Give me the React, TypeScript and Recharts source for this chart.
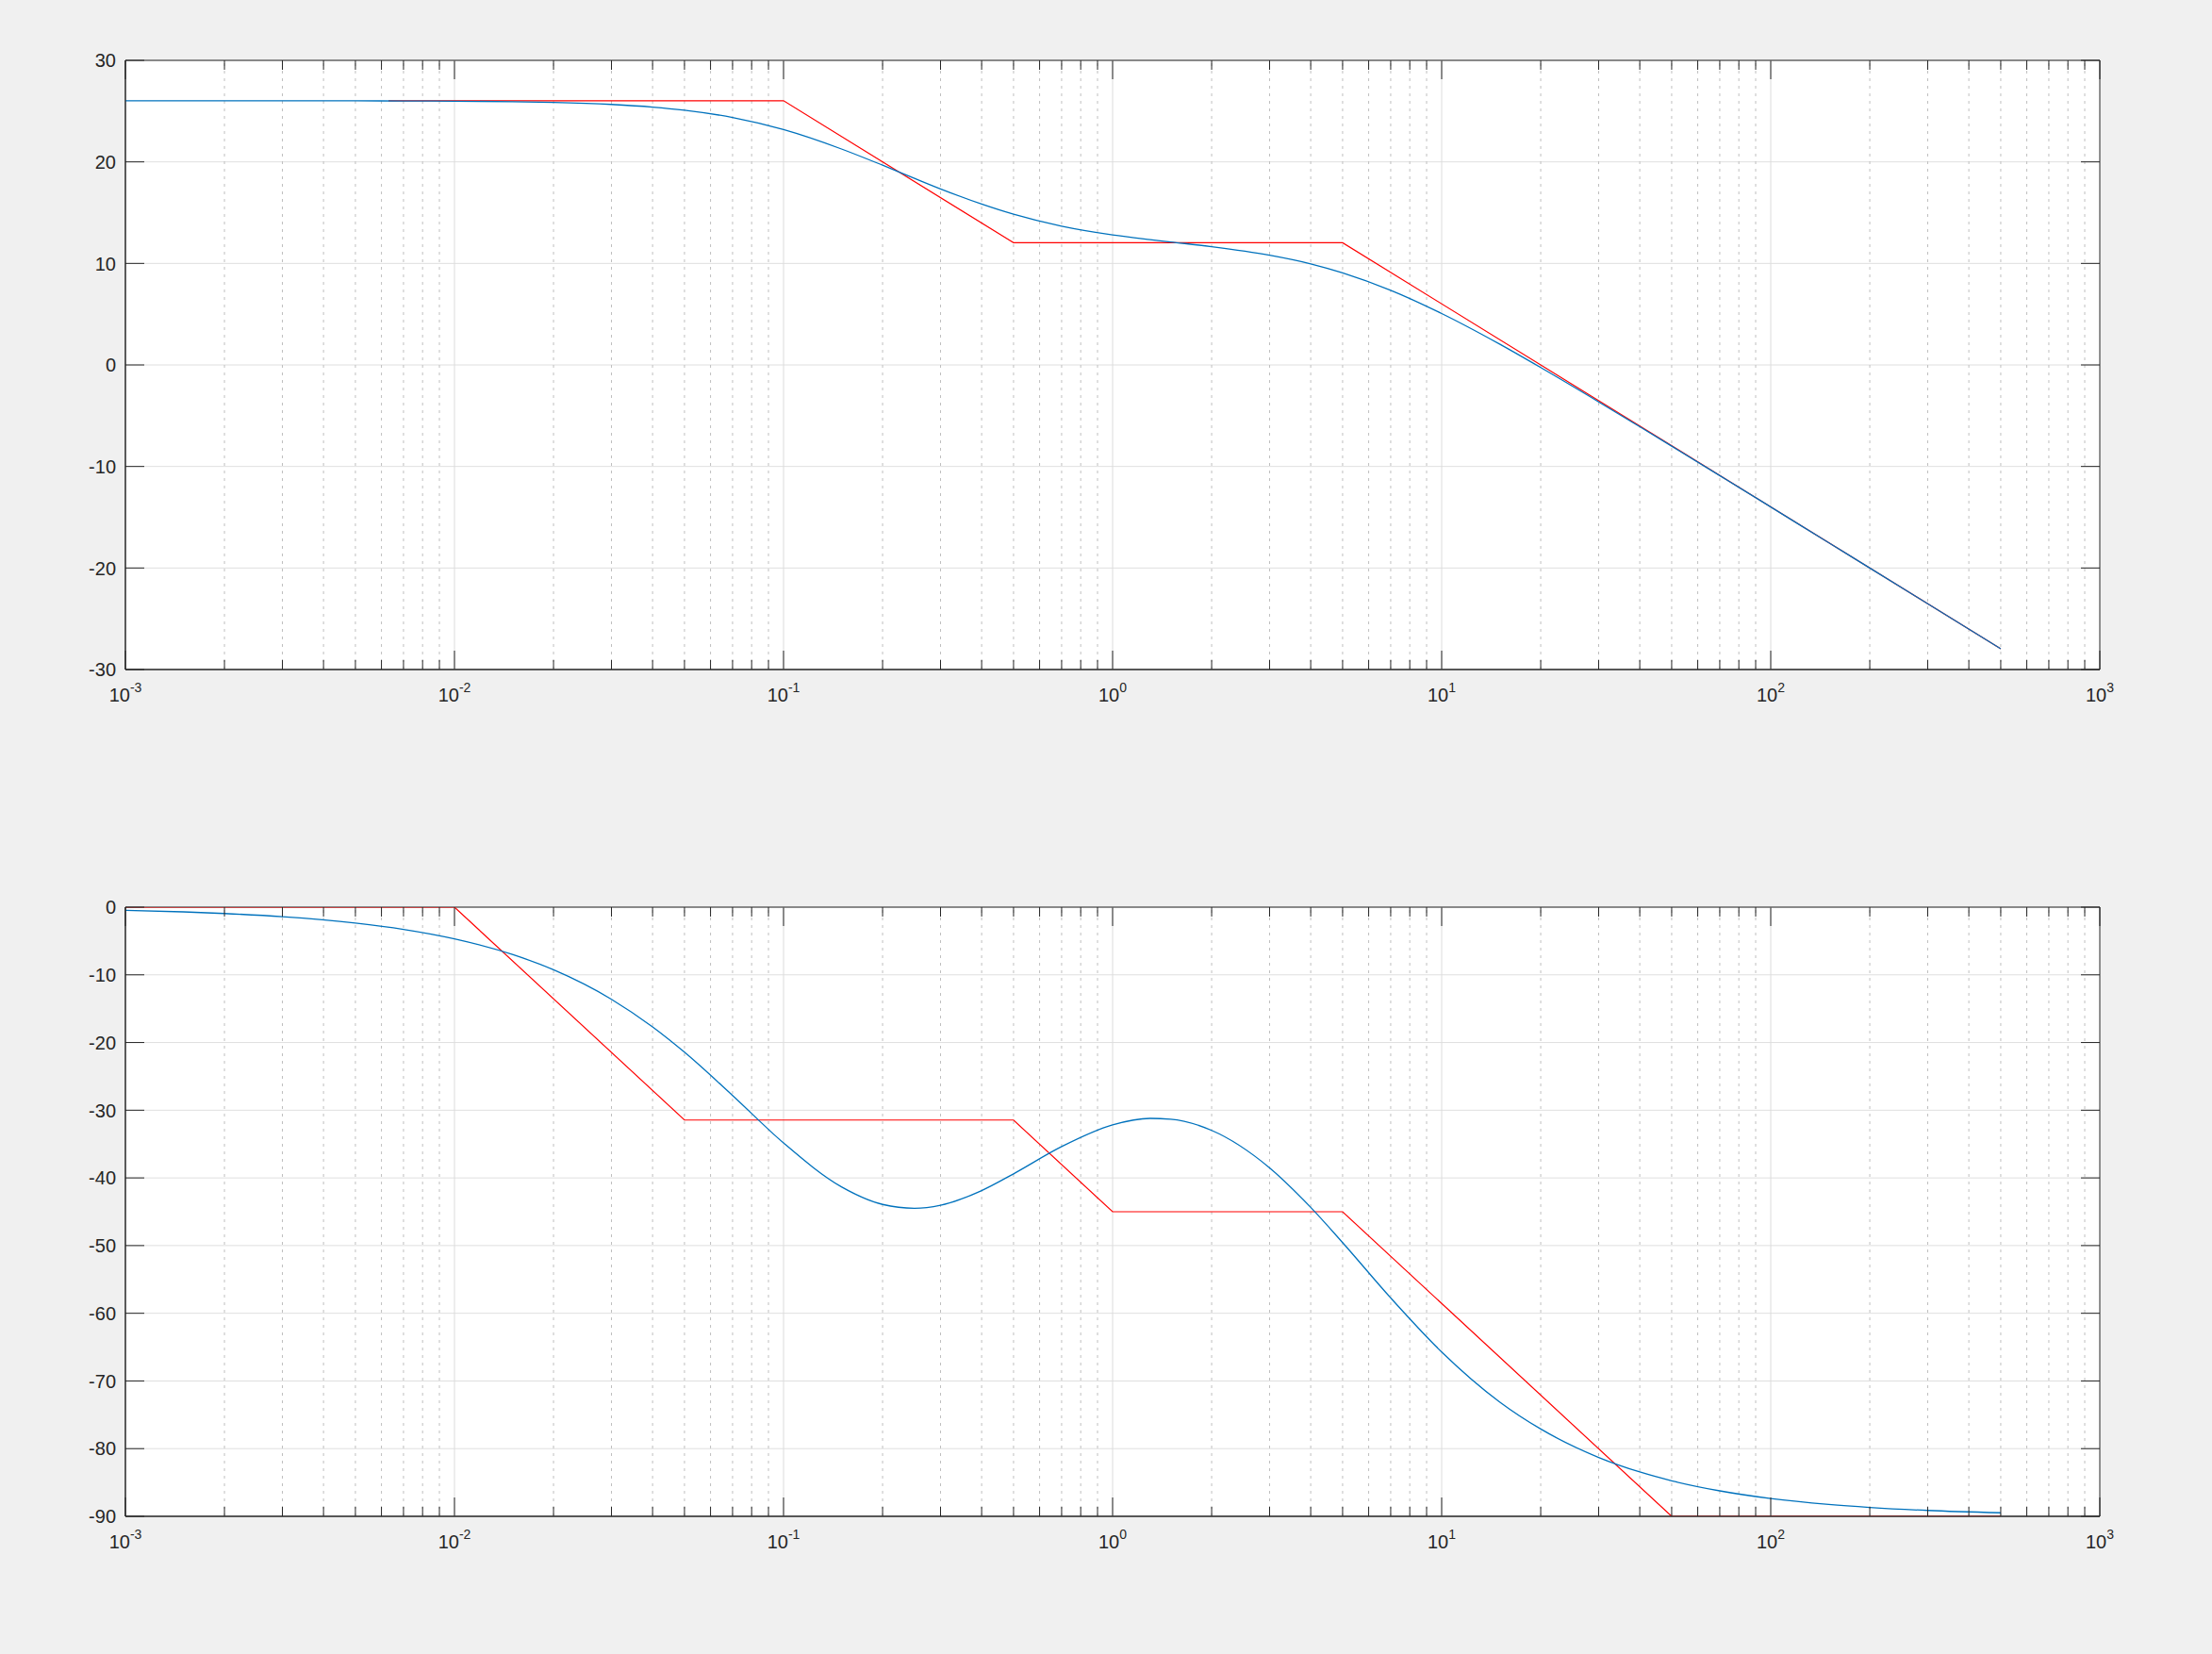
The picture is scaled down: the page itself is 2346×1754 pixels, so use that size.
import React from "react";
import { CartesianGrid, Line, LineChart, ReferenceArea, ReferenceLine, XAxis, YAxis } from "recharts";

// frequency samples (rad/s)
const freqs = [
  0.001, 0.0015, 0.002, 0.003, 0.005, 0.007,
  0.01, 0.015, 0.02, 0.03, 0.04, 0.05, 0.07,
  0.1, 0.15, 0.2, 0.25, 0.3, 0.4, 0.5, 0.7,
  1, 1.3, 1.5, 2, 3, 4, 5, 7,
  10, 15, 20, 30, 40, 50, 70,
  100, 150, 200, 300, 500,
];
const magDb = [
  26.02, 26.02, 26.02, 26.02, 26.01, 26.0,
  25.98, 25.93, 25.86, 25.66, 25.4, 25.09, 24.37,
  23.18, 21.27, 19.67, 18.38, 17.34, 15.84, 14.84, 13.66,
  12.8, 12.34, 12.11, 11.65, 10.81, 9.96, 9.07, 7.35,
  5.06, 2.05, -0.26, -3.64, -6.09, -8.0, -10.9,
  -13.99, -17.51, -20.0, -23.52, -27.96,
];
const phaseDeg = [
  -0.47, -0.7, -0.94, -1.41, -2.35, -3.28,
  -4.68, -6.99, -9.25, -13.61, -17.69, -21.43, -27.82,
  -34.84, -41.33, -43.92, -44.49, -44.04, -41.87, -39.4, -35.38,
  -32.17, -31.21, -31.32, -32.98, -38.51, -44.36, -49.56, -57.73,
  -65.72, -73.1, -77.1, -81.3, -83.45, -84.75, -86.24,
  -87.37, -88.24, -88.68, -89.13, -89.48,
];

// red asymptotes
const asymMagFreq = [0.0063, 0.1, 0.5, 5, 500];
const asymMagDb = [26.02, 26.02, 12.04, 12.04, -27.96];
const asymPhaseFreq = [0.001, 0.01, 0.05, 0.5, 1, 5, 50, 500];
const asymPhaseDeg = [0, 0, -31.45, -31.45, -45, -45, -90, -90];

const decadeExps = [-3, -2, -1, 0, 1, 2, 3];
const minorMults = [2, 3, 4, 5, 6, 7, 8, 9];
const magTicks = [-30, -20, -10, 0, 10, 20, 30];
const phaseTicks = [-90, -80, -70, -60, -50, -40, -30, -20, -10, 0];

const majorX = decadeExps.map((e) => Math.pow(10, e));
const minorX = decadeExps.slice(0, -1).flatMap((e) => minorMults.map((m) => m * Math.pow(10, e)));
const allX = [...majorX, ...minorX].sort((a, b) => a - b);

const PLOT_W = 2094;
const PLOT_H = 646;
const AXIS = "#262626";
const FONT = "'Liberation Sans', Arial, Helvetica, sans-serif";

const toRows = (xs: number[], ys: number[]) => xs.map((f, i) => ({ f, v: ys[i] }));

const isMajor = (v: number) => Math.abs(Math.log10(v) - Math.round(Math.log10(v))) < 1e-6;

function XTick(props: any) {
  const { x, y, payload } = props;
  const v = payload.value;
  const major = isMajor(v);
  const len = major ? 20 : 10;
  const exp = Math.round(Math.log10(v));
  return (
    <g>
      <line x1={x} x2={x} y1={y} y2={y - len} stroke={AXIS} strokeWidth={1} />
      <line x1={x} x2={x} y1={y - PLOT_H} y2={y - PLOT_H + len} stroke={AXIS} strokeWidth={1} />
      {major && (
        <text x={x} y={y + 34} textAnchor="middle" fontSize={20} fill={AXIS} fontFamily={FONT}>
          10
          <tspan fontSize={14} dy={-10}>
            {exp}
          </tspan>
        </text>
      )}
    </g>
  );
}

function YTick(props: any) {
  const { x, y, payload } = props;
  return (
    <g>
      <line x1={x} x2={x + 20} y1={y} y2={y} stroke={AXIS} strokeWidth={1} />
      <line x1={x + PLOT_W} x2={x + PLOT_W - 20} y1={y} y2={y} stroke={AXIS} strokeWidth={1} />
      <text x={x - 10} y={y} dy="0.36em" textAnchor="end" fontSize={20} fill={AXIS} fontFamily={FONT}>
        {payload.value}
      </text>
    </g>
  );
}

function BodePanel({
  top,
  ticks,
  blue,
  red,
}: {
  top: number;
  ticks: number[];
  blue: { f: number; v: number }[];
  red: { f: number; v: number }[];
}) {
  const yDomain: [number, number] = [ticks[0], ticks[ticks.length - 1]];
  return (
    <LineChart
      width={2346}
      height={877}
      margin={{ top, right: 119, left: 73, bottom: 877 - top - PLOT_H - 60 }}
      style={{ overflow: "visible" }}
    >
      <CartesianGrid vertical={false} stroke="#dfdfdf" fill="#ffffff" fillOpacity={1} />
      {minorX.map((v) => (
        <ReferenceLine key={"m" + v} x={v} stroke="#bfbfbf" strokeDasharray="3 5" />
      ))}
      {majorX.slice(1, -1).map((v) => (
        <ReferenceLine key={"M" + v} x={v} stroke="#dcdcdc" />
      ))}
      <XAxis
        dataKey="f"
        type="number"
        scale="log"
        domain={[0.001, 1000]}
        allowDataOverflow
        ticks={allX}
        interval={0}
        height={60}
        tickSize={0}
        tickMargin={0}
        tickLine={false}
        axisLine={{ stroke: AXIS }}
        tick={(p: any) => <XTick {...p} />}
      />
      <YAxis
        type="number"
        domain={yDomain}
        allowDataOverflow
        ticks={ticks}
        interval={0}
        width={60}
        tickSize={0}
        tickMargin={0}
        tickLine={false}
        axisLine={{ stroke: AXIS }}
        tick={(p: any) => <YTick {...p} />}
      />
      <Line
        data={red}
        dataKey="v"
        type="linear"
        stroke="#FF0000"
        strokeWidth={1.2}
        dot={false}
        isAnimationActive={false}
      />
      <Line
        data={blue}
        dataKey="v"
        type="monotone"
        stroke="#0072BD"
        strokeWidth={1.3}
        dot={false}
        isAnimationActive={false}
      />
      <ReferenceArea x1={0.001} x2={1000} y1={yDomain[0]} y2={yDomain[1]} fill="none" stroke={AXIS} strokeWidth={1} />
    </LineChart>
  );
}

export default function App() {
  return (
    <div
      style={{
        position: "absolute",
        left: 0,
        top: 0,
        width: 2346,
        height: 1754,
        background: "#f0f0f0",
        overflow: "hidden",
      }}
    >
      <div style={{ position: "absolute", left: 0, top: 0 }}>
        <BodePanel top={64} ticks={magTicks} blue={toRows(freqs, magDb)} red={toRows(asymMagFreq, asymMagDb)} />
      </div>
      <div style={{ position: "absolute", left: 0, top: 877 }}>
        <BodePanel top={85} ticks={phaseTicks} blue={toRows(freqs, phaseDeg)} red={toRows(asymPhaseFreq, asymPhaseDeg)} />
      </div>
    </div>
  );
}
